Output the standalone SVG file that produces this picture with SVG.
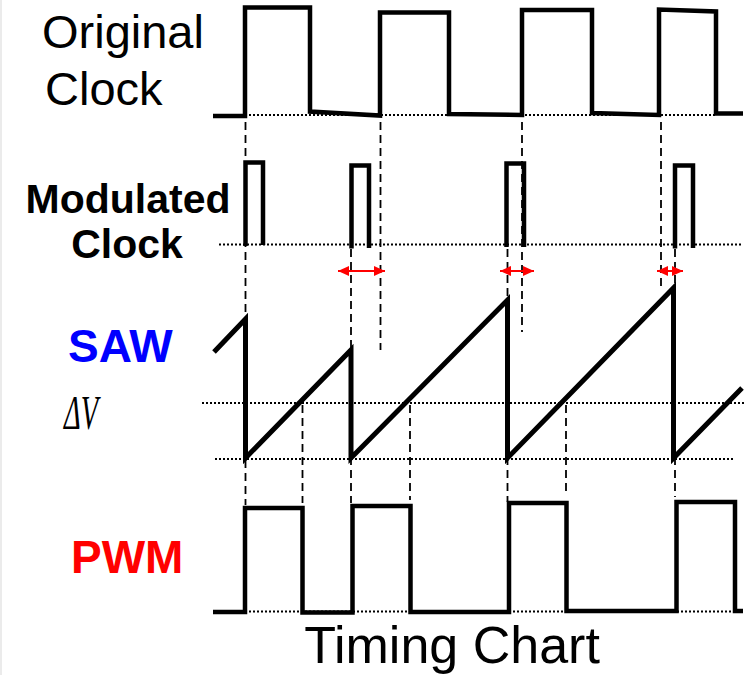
<svg xmlns="http://www.w3.org/2000/svg" width="745" height="675" viewBox="0 0 745 675">
  <style>
    .sig { fill: none; stroke: #000; stroke-width: 4.5; stroke-linejoin: miter; stroke-linecap: butt; }
    .saw { fill: none; stroke: #000; stroke-width: 5; stroke-linejoin: miter; stroke-miterlimit: 3; }
    .dot { fill: none; stroke: #000; stroke-width: 1.8; stroke-dasharray: 2 2; }
    .dash { fill: none; stroke: #000; stroke-width: 1.8; stroke-dasharray: 8 5; }
    .arr { fill: none; stroke: #ff0000; stroke-width: 2; marker-start: url(#ah); marker-end: url(#ah); }
    .lbl { font-family: "Liberation Sans", Arial, sans-serif; fill: #000; }
    .b { font-weight: bold; }
  </style>
  <defs>
    <marker id="ah" viewBox="0 0 11 10" refX="11" refY="5" markerWidth="11" markerHeight="10" markerUnits="userSpaceOnUse" orient="auto-start-reverse">
      <path d="M0,0 L11,5 L0,10 z" fill="#ff0000"/>
    </marker>
  </defs>
  <rect x="0" y="0" width="745" height="675" fill="#fff"/>
  <line x1="1" y1="0" x2="1" y2="675" stroke="#e4e4e4" stroke-width="1.5"/>

  <g id="labels">
    <text class="lbl" x="42" y="48" font-size="47">Original</text>
    <text class="lbl" x="45" y="105" font-size="47">Clock</text>
    <text class="lbl b" x="128" y="213" font-size="41" text-anchor="middle">Modulated</text>
    <text class="lbl b" x="127" y="258" font-size="41" text-anchor="middle">Clock</text>
    <text class="lbl b" x="68" y="362" font-size="46" style="fill:#0000ff">SAW</text>
    <text x="64" y="429" font-family="'Liberation Serif', 'Times New Roman', serif" font-style="italic" font-size="48" textLength="34" lengthAdjust="spacingAndGlyphs">ΔV</text>
    <text class="lbl b" x="71" y="573" font-size="46" style="fill:#ff0000">PWM</text>
    <text class="lbl" x="452" y="663" font-size="52" text-anchor="middle">Timing Chart</text>
  </g>

  <g id="reference-lines">
    <line class="dot" x1="245" y1="115" x2="716" y2="115"/>
    <line class="dot" x1="219" y1="244.5" x2="742" y2="244.5"/>
    <line class="dot" x1="202" y1="403" x2="745" y2="403"/>
    <line class="dot" x1="215" y1="459" x2="735" y2="459"/>
    <line class="dot" x1="245" y1="611.5" x2="735" y2="611.5"/>
  </g>

  <g id="connectors">
    <line class="dash" x1="245.5" y1="122" x2="245.5" y2="505"/>
    <line class="dash" x1="380.5" y1="122" x2="380.5" y2="350"/>
    <line class="dash" x1="522" y1="122" x2="522" y2="332"/>
    <line class="dash" x1="661" y1="122" x2="661" y2="287"/>
    <line class="dash" x1="351" y1="249" x2="351" y2="503"/>
    <line class="dash" x1="507.5" y1="249" x2="507.5" y2="502"/>
    <line class="dash" x1="675" y1="249" x2="675" y2="497"/>
    <line class="dash" x1="302.5" y1="405" x2="302.5" y2="503"/>
    <line class="dash" x1="410" y1="405" x2="410" y2="500"/>
    <line class="dash" x1="566" y1="405" x2="566" y2="495"/>
    <line class="arr" x1="338" y1="271" x2="385" y2="271"/>
    <line class="arr" x1="500" y1="271" x2="534" y2="271"/>
    <line class="arr" x1="657" y1="271" x2="683" y2="271"/>
  </g>

  <g id="original-clock">
    <path class="sig" d="M213,116 H245 V7.5 H310 V111.5 L380,115.5 V12.5 H449 V114 L522,115 V10 H592 V113 L659,115 V9.5 L716,11.5 V113.5 H743"/>
  </g>

  <g id="modulated-clock">
    <path class="sig" d="M245.5,246 V162.5 H263 V245"/>
    <path class="sig" d="M351.5,248.5 V165.5 H369 V248"/>
    <path class="sig" d="M506.5,247 V163.5 H524 V247"/>
    <path class="sig" d="M675,248.5 V165.5 H693 V248"/>
  </g>

  <g id="saw">
    <path class="saw" d="M214,352 L245.5,319 V458 L351,350 V458 L507.5,300 V458 L673.5,288 V458 L742,388"/>
  </g>

  <g id="pwm">
    <path class="sig" d="M213,612 H245 V508 H302.5 V612.5 H352.5 V506 H410.5 V612 H509 V503 H566.5 V611 H676.5 V502 H735 V611 H743"/>
  </g>
</svg>
